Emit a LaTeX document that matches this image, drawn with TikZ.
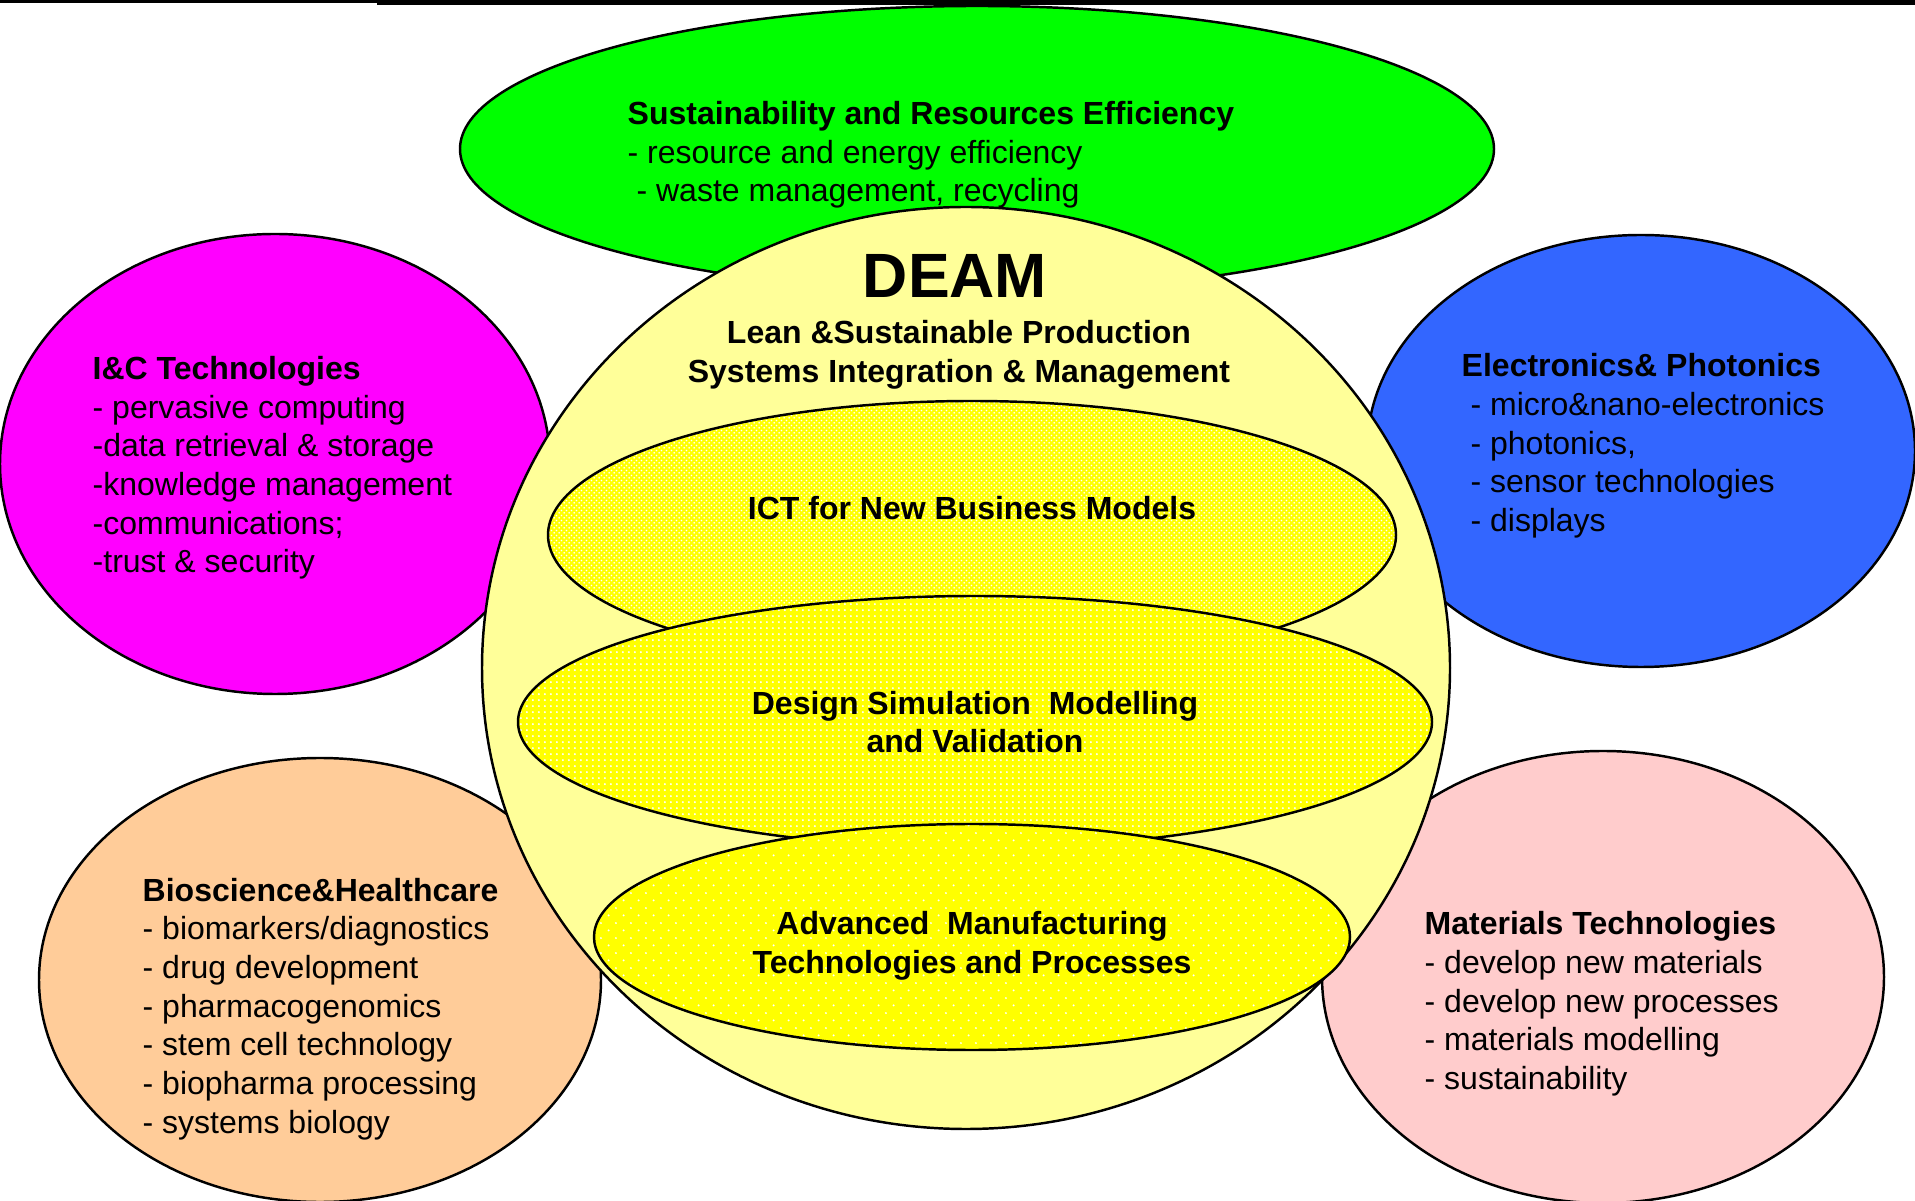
\documentclass[tikz,border=0pt]{standalone}
\usepackage{fontspec}
\setmainfont{Liberation Sans}
\usepackage{xcolor}
\usetikzlibrary{patterns.meta}
\definecolor{sregreen}{RGB}{0,255,0}
\definecolor{deamyellow}{RGB}{255,255,153}
\definecolor{icmagenta}{RGB}{255,0,255}
\definecolor{epblue}{RGB}{51,102,255}
\definecolor{biopeach}{RGB}{255,204,153}
\definecolor{matpink}{RGB}{255,204,204}
\definecolor{coreyellow}{RGB}{255,255,0}

% white dot patterns laid over the yellow of the three inner fields
\tikzdeclarepattern{name=meshdots, type=uncolored,
  bottom left={(0pt,0pt)}, top right={(1.5pt,1.5pt)}, tile size={(1.5pt,1.5pt)},
  code={\tikzset{x=1pt,y=1pt}
    \fill (0.375,0.375) circle (0.3); \fill (1.125,1.125) circle (0.3);}}
\tikzdeclarepattern{name=finedots, type=uncolored,
  bottom left={(0pt,0pt)}, top right={(1.8pt,1.8pt)}, tile size={(1.8pt,1.8pt)},
  code={\tikzset{x=1pt,y=1pt}
    \fill (0.9,0.9) circle (0.32);}}
\tikzdeclarepattern{name=sparsedots, type=uncolored,
  bottom left={(0pt,0pt)}, top right={(4.2pt,4.2pt)}, tile size={(4.2pt,4.2pt)},
  code={\tikzset{x=1pt,y=1pt}
    \fill (1.05,1.05) circle (0.3); \fill (3.15,3.15) circle (0.3);}}

\tikzset{blob/.style={draw=black,line width=0.7pt},
         topic/.style={font=\fontsize{9.1}{11}\selectfont,align=left,inner sep=0pt,anchor=west},
         core/.style={font=\fontsize{9.1}{11}\selectfont\bfseries,align=center,inner sep=0pt},}

\begin{document}
\begin{tikzpicture}[x=0.01cm, y=-0.01cm]
    \useasboundingbox (0,0) rectangle (1915,1201);
    \fill[black] (0,0) rectangle (377,3);
    \fill[black] (377,0) rectangle (1915,5.5);

    % outer fields
    \filldraw[blob, fill=sregreen] (977,149) ellipse (517 and 143);
    \filldraw[blob, fill=icmagenta] (275,464) ellipse (275 and 230);
    \filldraw[blob, fill=epblue] (1641,451) ellipse (274 and 216);
    \filldraw[blob, fill=biopeach] (320,980) ellipse (281 and 222);
    \filldraw[blob, fill=matpink] (1603,977) ellipse (281 and 226);

    % DEAM
    \filldraw[blob, fill=deamyellow] (966,668) ellipse (484 and 461);
    \draw[blob, preaction={fill=coreyellow}, pattern=meshdots, pattern color=white] (972,535) ellipse (424 and 134);
    \draw[blob, preaction={fill=coreyellow}, pattern=finedots, pattern color=white] (975,722) ellipse (457 and 126);
    \draw[blob, preaction={fill=coreyellow}, pattern=sparsedots, pattern color=white] (972,937) ellipse (378 and 113);

    \node[topic] (sre) at (627,155) {\textbf{Sustainability and Resources Efficiency}\\- resource and energy efficiency\\\ - waste management, recycling};
    \node[topic] (ic) at (92,468) {\textbf{I\&C Technologies}\\- pervasive computing\\-data retrieval \& storage\\-knowledge management\\-communications;\\-trust \& security};
    \node[topic] (ep) at (1461,446) {\textbf{Electronics\& Photonics}\\\ - micro\&nano-electronics\\\ - photonics,\\\ - sensor technologies\\\ - displays};
    \node[topic] (bio) at (142,1009) {\textbf{Bioscience\&Healthcare}\\- biomarkers/diagnostics\\- drug development\\- pharmacogenomics\\- stem cell technology\\- biopharma processing\\- systems biology};
    \node[topic] (mat) at (1424,1004) {\textbf{Materials Technologies}\\- develop new materials\\- develop new processes\\- materials modelling\\- sustainability};

    \node[core, font=\fontsize{17.8}{20}\selectfont\bfseries] (deam) at (955,276) {DEAM};
    \node[core] (lean) at (959,355) {Lean \&Sustainable Production\\Systems Integration \& Management};
    \node[core] (bizz) at (972,508) {ICT for New Business Models};
    \node[core] (dsmv) at (975,722) {Design Simulation\ \ Modelling\\and Validation};
    \node[core] (amtp) at (972,946) {Advanced\ \ Manufacturing\\Technologies and Processes};
\end{tikzpicture}
\end{document}
